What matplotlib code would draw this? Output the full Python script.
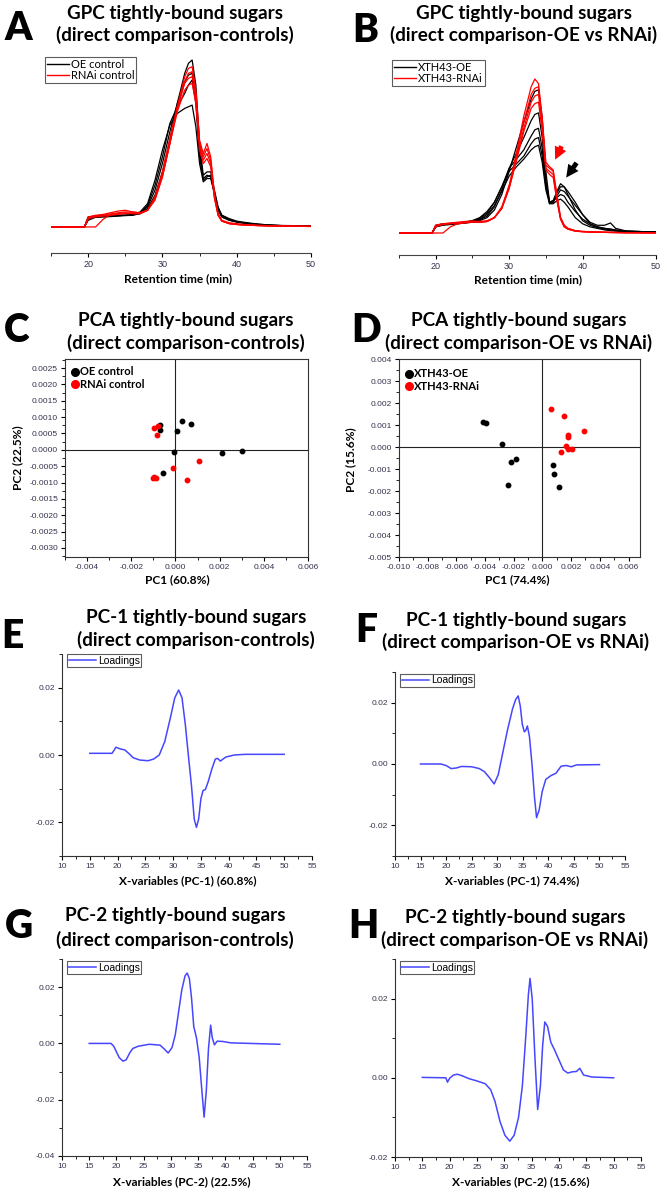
import matplotlib
matplotlib.use("Agg")
import matplotlib.pyplot as plt
import matplotlib.ticker as mticker
from matplotlib.lines import Line2D

plt.rcParams['font.family'] = ['Liberation Sans', 'DejaVu Sans']

# ---------------- data ----------------
# GPC traces (retention time grid shared by all traces, intensity in relative units)
gpc_x = [15, 19.5, 20, 21, 22, 23, 24, 25, 26, 27, 28, 29, 30, 31, 32, 33, 33.5, 34, 34.5, 35,
         35.5, 36, 36.5, 37, 37.5, 38, 39, 40, 41, 42, 43, 43.8, 44.5, 46, 50]

# A: OE control (black) / RNAi control (red)
a_oe = [
    [0, 0, 0.06, 0.065, 0.066, 0.068, 0.07, 0.07, 0.073, 0.08, 0.11, 0.19, 0.33, 0.52, 0.74, 0.92, 0.98, 1.0,
     0.85, 0.5, 0.31, 0.33, 0.33, 0.22, 0.12, 0.07, 0.045, 0.03, 0.024, 0.018, 0.014, 0.012, 0.01, 0.008, 0.005],
    [0, 0, 0.05, 0.06, 0.062, 0.065, 0.068, 0.07, 0.075, 0.09, 0.14, 0.28, 0.46, 0.61, 0.68, 0.71, 0.72, 0.73,
     0.6, 0.38, 0.27, 0.29, 0.29, 0.2, 0.11, 0.07, 0.05, 0.035, 0.028, 0.022, 0.017, 0.014, 0.012, 0.009, 0.006],
    [0, 0, 0.055, 0.06, 0.063, 0.066, 0.068, 0.07, 0.072, 0.085, 0.12, 0.22, 0.38, 0.57, 0.74, 0.87, 0.91, 0.92,
     0.78, 0.45, 0.29, 0.31, 0.3, 0.2, 0.1, 0.06, 0.04, 0.03, 0.022, 0.017, 0.013, 0.011, 0.009, 0.007, 0.005],
    [0, 0, 0.04, 0.058, 0.06, 0.062, 0.065, 0.068, 0.07, 0.08, 0.13, 0.25, 0.42, 0.62, 0.72, 0.8, 0.85, 0.88,
     0.74, 0.42, 0.28, 0.3, 0.31, 0.21, 0.1, 0.06, 0.04, 0.03, 0.024, 0.02, 0.016, 0.013, 0.011, 0.008, 0.005],
]
a_rnai = [
    [0, 0, 0.06, 0.07, 0.075, 0.085, 0.095, 0.1, 0.09, 0.085, 0.1, 0.16, 0.3, 0.5, 0.72, 0.9, 0.95, 0.96,
     0.82, 0.52, 0.44, 0.5, 0.42, 0.2, 0.08, 0.04, 0.025, 0.02, 0.015, 0.012, 0.01, 0.009, 0.008, 0.006, 0.004],
    [0, 0, 0, 0, 0.045, 0.075, 0.08, 0.085, 0.08, 0.08, 0.1, 0.17, 0.31, 0.5, 0.7, 0.87, 0.92, 0.93,
     0.8, 0.5, 0.42, 0.47, 0.4, 0.19, 0.07, 0.035, 0.02, 0.015, 0.012, 0.01, 0.008, 0.007, 0.006, 0.005, 0.003],
    [0, 0, 0.055, 0.065, 0.07, 0.078, 0.085, 0.09, 0.088, 0.085, 0.1, 0.18, 0.33, 0.53, 0.72, 0.86, 0.89, 0.9,
     0.77, 0.48, 0.4, 0.44, 0.38, 0.18, 0.07, 0.035, 0.02, 0.015, 0.012, 0.01, 0.008, 0.007, 0.006, 0.005, 0.003],
    [0, 0, 0.05, 0.06, 0.065, 0.07, 0.075, 0.08, 0.08, 0.08, 0.1, 0.17, 0.3, 0.5, 0.69, 0.82, 0.85, 0.86,
     0.74, 0.46, 0.38, 0.41, 0.36, 0.17, 0.07, 0.035, 0.02, 0.015, 0.012, 0.01, 0.008, 0.007, 0.006, 0.005, 0.003],
]

# B: XTH43-OE (black) / XTH43-RNAi (red)
b_oe = [
    [0, 0, 0.04, 0.055, 0.058, 0.06, 0.065, 0.07, 0.08, 0.1, 0.15, 0.25, 0.4, 0.56, 0.72, 0.87, 0.92, 0.93,
     0.75, 0.4, 0.2, 0.2, 0.26, 0.3, 0.3, 0.25, 0.15, 0.08, 0.05, 0.035, 0.025, 0.02, 0.015, 0.01, 0.005],
    [0, 0, 0.05, 0.06, 0.062, 0.065, 0.07, 0.075, 0.085, 0.11, 0.17, 0.28, 0.42, 0.52, 0.62, 0.73, 0.77, 0.78,
     0.62, 0.35, 0.2, 0.21, 0.27, 0.32, 0.3, 0.27, 0.2, 0.12, 0.06, 0.04, 0.03, 0.025, 0.018, 0.012, 0.006],
    [0, 0, 0.04, 0.055, 0.06, 0.065, 0.07, 0.08, 0.095, 0.13, 0.2, 0.3, 0.42, 0.48, 0.54, 0.63, 0.67, 0.68,
     0.55, 0.32, 0.19, 0.2, 0.24, 0.28, 0.27, 0.24, 0.18, 0.12, 0.07, 0.05, 0.05, 0.065, 0.03, 0.012, 0.006],
    [0, 0, 0.045, 0.055, 0.06, 0.065, 0.07, 0.08, 0.1, 0.14, 0.2, 0.3, 0.4, 0.45, 0.5, 0.58, 0.61, 0.62,
     0.5, 0.3, 0.2, 0.21, 0.23, 0.25, 0.24, 0.2, 0.14, 0.09, 0.06, 0.04, 0.03, 0.025, 0.02, 0.012, 0.006],
    [0, 0, 0.04, 0.05, 0.055, 0.06, 0.065, 0.075, 0.09, 0.12, 0.18, 0.27, 0.37, 0.43, 0.48, 0.54, 0.56, 0.57,
     0.46, 0.28, 0.19, 0.19, 0.21, 0.22, 0.2, 0.17, 0.1, 0.06, 0.04, 0.03, 0.02, 0.015, 0.012, 0.008, 0.004],
]
b_rnai = [
    [0, 0, 0.05, 0.06, 0.062, 0.065, 0.07, 0.072, 0.07, 0.075, 0.1, 0.16, 0.3, 0.52, 0.76, 0.95, 1.0, 0.97,
     0.75, 0.46, 0.43, 0.41, 0.25, 0.1, 0.05, 0.03, 0.015, 0.01, 0.008, 0.006, 0.005, 0.004, 0.003, 0.002, 0.001],
    [0, 0, 0.04, 0.055, 0.06, 0.065, 0.07, 0.07, 0.07, 0.075, 0.1, 0.17, 0.31, 0.5, 0.72, 0.9, 0.94, 0.95,
     0.72, 0.44, 0.42, 0.4, 0.24, 0.1, 0.05, 0.03, 0.015, 0.01, 0.008, 0.006, 0.005, 0.004, 0.003, 0.002, 0.001],
    [0, 0, 0, 0, 0.04, 0.06, 0.065, 0.07, 0.07, 0.075, 0.1, 0.16, 0.29, 0.48, 0.68, 0.85, 0.89, 0.9,
     0.7, 0.42, 0.4, 0.38, 0.22, 0.09, 0.04, 0.025, 0.012, 0.008, 0.006, 0.005, 0.004, 0.003, 0.003, 0.002, 0.001],
    [0, 0, 0.05, 0.06, 0.065, 0.07, 0.075, 0.078, 0.075, 0.08, 0.1, 0.16, 0.29, 0.47, 0.66, 0.81, 0.84, 0.85,
     0.66, 0.41, 0.38, 0.36, 0.21, 0.09, 0.04, 0.025, 0.012, 0.008, 0.006, 0.005, 0.004, 0.003, 0.003, 0.002, 0.001],
]

# C: PCA scores, controls
c_oe_pc1 = [-0.00072, -0.00069, 0.00028, 0.00008, 0.00072, -0.00006, 0.00212, 0.00303, -0.00058]
c_oe_pc2 = [0.00076, 0.00061, 0.00088, 0.00058, 0.00079, -0.00006, -0.00011, -0.00005, -0.00071]
c_rnai_pc1 = [-0.00098, -0.00078, -0.00085, -0.00009, 0.00105, 0.00051, -0.00102, -0.00097, -0.00086]
c_rnai_pc2 = [0.00068, 0.00073, 0.00044, -0.00056, -0.00033, -0.00092, -0.00085, -0.00083, -0.00085]

# D: PCA scores, OE vs RNAi
d_oe_pc1 = [-0.00411, -0.00393, -0.00283, -0.0022, -0.00187, -0.00243, 0.00075, 0.00082, 0.00117]
d_oe_pc2 = [0.00113, 0.00107, 0.00014, -0.00066, -0.00053, -0.00174, -0.00084, -0.00124, -0.00183]
d_rnai_pc1 = [0.00058, 0.0015, 0.00175, 0.00175, 0.00292, 0.00161, 0.00129, 0.0018, 0.00206]
d_rnai_pc2 = [0.00171, 0.0014, 0.00055, 0.00047, 0.00072, 0.00005, -0.00023, -0.00008, -0.00009]

# E-H: loadings
e_x = [15, 19, 19.3, 19.7, 20.5, 21.3, 22, 22.8, 24, 25.5, 26.5, 27.5, 28.5, 29.5, 30.3, 31, 31.6, 32.2,
       32.8, 33.3, 33.8, 34.2, 34.6, 35, 35.4, 35.8, 36.3, 37, 37.6, 38, 38.5, 39.5, 41, 43, 50]
e_y = [0.0005, 0.0005, 0.0012, 0.0023, 0.0018, 0.0015, 0.0005, -0.0008, -0.0015, -0.0017, -0.0012, 0.0,
       0.004, 0.011, 0.017, 0.0193, 0.017, 0.009, -0.001, -0.009, -0.019, -0.0215, -0.019, -0.013, -0.0105,
       -0.0103, -0.008, -0.004, -0.0012, -0.001, -0.0018, -0.0006, 0.0, 0.0002, 0.0002]

f_x = [15, 19, 20, 21, 22, 23, 25, 26.5, 27.5, 28.5, 29.4, 30.2, 31, 32, 33, 33.6, 34.1, 34.5, 34.9, 35.3,
       35.6, 35.9, 36.3, 36.8, 37.3, 37.7, 38.2, 38.8, 39.5, 40.5, 41.5, 42.5, 43.5, 44.5, 45.5, 50]
f_y = [0.0, 0.0, -0.0005, -0.0015, -0.0013, -0.0008, -0.0009, -0.0015, -0.0025, -0.0045, -0.0065, -0.0035,
       0.003, 0.011, 0.018, 0.021, 0.0222, 0.019, 0.013, 0.0105, 0.011, 0.0124, 0.009, 0.0, -0.011, -0.0175,
       -0.015, -0.009, -0.005, -0.0038, -0.003, -0.0007, -0.0005, -0.0009, -0.0003, -0.0002]

g_x = [15, 19, 19.5, 20, 20.5, 21.2, 21.8, 22.4, 23, 24, 26, 28, 28.8, 29.5, 30.2, 30.8, 31.4, 32, 32.6,
       33, 33.4, 33.8, 34.2, 34.7, 35.2, 35.7, 36.1, 36.5, 36.9, 37.3, 37.6, 38, 38.5, 39.5, 41, 50]
g_y = [0.0, 0.0, -0.001, -0.003, -0.005, -0.0063, -0.0058, -0.0035, -0.0018, -0.001, -0.0003, -0.0006,
       -0.002, -0.0034, -0.0015, 0.003, 0.011, 0.019, 0.024, 0.025, 0.023, 0.016, 0.006, 0.002, -0.005,
       -0.017, -0.0262, -0.017, -0.002, 0.0065, 0.002, -0.0005, 0.0008, 0.0007, 0.0002, -0.0003]

h_x = [15, 19.3, 19.6, 20, 20.7, 21.4, 22.3, 23.5, 25, 26.5, 27.5, 28.3, 29.2, 30.1, 31, 31.8, 32.6, 33.3,
       33.9, 34.4, 34.7, 35.1, 35.6, 36.1, 36.6, 37, 37.4, 37.9, 38.5, 39.2, 40, 40.8, 41.6, 42.4, 43.2,
       43.8, 44.5, 46, 50]
h_y = [0.0001, 0.0, -0.0011, -0.0001, 0.0007, 0.0009, 0.0005, -0.0002, -0.0008, -0.0015, -0.003, -0.006,
       -0.011, -0.0145, -0.016, -0.0145, -0.01, -0.002, 0.01, 0.021, 0.0251, 0.02, 0.005, -0.008, -0.002,
       0.008, 0.0141, 0.013, 0.009, 0.007, 0.0045, 0.002, 0.0012, 0.0015, 0.0016, 0.0024, 0.0007, 0.0002, 0.0]

# ---------------- layout helpers ----------------
W, H = 666, 1191
fig = plt.figure(figsize=(W / 100, H / 100), dpi=100)

TICK_COLOR = '#34344e'
HEAD = 'Lato'
BLUE = '#4646ff'
TSIZE = 13.6
LSIZE = 8.6


def box(l, t, r, b):
    return [l / W, 1 - b / H, (r - l) / W, (b - t) / H]


def ftext(x, y, s, **kw):
    fig.text(x / W, 1 - y / H, s, ha='center', va='center', **kw)


def title(cx, y1, y2, l1, l2, lx, ly, letter):
    ftext(cx, y1, l1, family=HEAD, weight='bold', size=TSIZE)
    ftext(cx, y2, l2, family=HEAD, weight='bold', size=TSIZE)
    ftext(lx, ly, letter, family=HEAD, weight='heavy', size=28)


def ticks(ax):
    ax.tick_params(which='major', labelsize=6, length=3, width=0.8, labelcolor=TICK_COLOR, pad=2)
    ax.tick_params(which='minor', length=2, width=0.6)


# ---------------- A / B: GPC ----------------
def gpc(rect, oe, rnai, labels, ylim, leg_anchor):
    ax = fig.add_axes(rect)
    for y in oe:
        ax.plot(gpc_x, y, color='black', lw=0.9)
    for y in rnai:
        ax.plot(gpc_x, y, color='red', lw=0.9)
    ax.set_xlim(15, 50)
    ax.set_ylim(*ylim)
    for s in ['left', 'right', 'top']:
        ax.spines[s].set_visible(False)
    ax.spines['bottom'].set_color('#444444')
    ax.set_yticks([])
    ax.set_xticks([20, 30, 40, 50])
    ax.set_xticks([15, 25, 35, 45], minor=True)
    ticks(ax)
    ax.tick_params(axis='x', labelsize=6.5)
    hs = [Line2D([], [], color='black', lw=1), Line2D([], [], color='red', lw=1)]
    leg = ax.legend(hs, labels, loc='upper left', bbox_to_anchor=leg_anchor, frameon=True, fancybox=False,
                    edgecolor='#333333', prop={'family': HEAD, 'size': 8}, handlelength=2.0,
                    borderpad=0.15, labelspacing=0.05, handletextpad=0.2, borderaxespad=0)
    leg.get_frame().set_linewidth(0.8)
    return ax


axA = gpc(box(51, 55, 311, 253), a_oe, a_rnai, ['OE control', 'RNAi control'], (-0.156, 1.03),
          (-0.023, 0.99))
axB = gpc(box(399, 57, 656, 255), b_oe, b_rnai, ['XTH43-OE', 'XTH43-RNAi'], (-0.143, 1.143),
          (-0.027, 0.985))
axB.annotate('', xy=(36.1, 0.46), xytext=(37.3, 0.58),
             arrowprops=dict(arrowstyle='simple,head_width=0.9,head_length=0.9,tail_width=0.35',
                             color='red', lw=0))
axB.annotate('', xy=(37.55, 0.345), xytext=(39.4, 0.47),
             arrowprops=dict(arrowstyle='simple,head_width=0.9,head_length=0.9,tail_width=0.35',
                             color='black', lw=0))

title(175, 13, 35, 'GPC tightly-bound sugars', '(direct comparison-controls)', 18, 29, 'A')
title(524, 13, 35, 'GPC tightly-bound sugars', '(direct comparison-OE vs RNAi)', 365, 30, 'B')
ftext(178, 279, 'Retention time (min)', family=HEAD, weight='bold', size=LSIZE)
ftext(528, 280, 'Retention time (min)', family=HEAD, weight='bold', size=LSIZE)


# ---------------- C / D: PCA ----------------
def pca(rect, oe_x, oe_y, rn_x, rn_y, labels, xlim, ylim, xt, yt, xfmt, yfmt, anchor):
    ax = fig.add_axes(rect)
    ax.axhline(0, color='#222222', lw=0.8)
    ax.axvline(0, color='#222222', lw=0.8)
    ax.plot(oe_x, oe_y, 'o', color='black', ms=3.2, ls='none')
    ax.plot(rn_x, rn_y, 'o', color='red', ms=3.2, ls='none')
    ax.set_xlim(*xlim)
    ax.set_ylim(*ylim)
    ax.set_xticks(xt)
    ax.set_yticks(yt)
    ax.xaxis.set_major_formatter(mticker.FormatStrFormatter(xfmt))
    ax.yaxis.set_major_formatter(mticker.FormatStrFormatter(yfmt))
    ax.xaxis.set_minor_locator(mticker.AutoMinorLocator(2))
    ax.yaxis.set_minor_locator(mticker.AutoMinorLocator(2))
    for s in ax.spines.values():
        s.set_linewidth(0.8)
        s.set_color('#333333')
    ticks(ax)
    hs = [Line2D([], [], marker='o', color='black', ls='none', ms=5.5),
          Line2D([], [], marker='o', color='red', ls='none', ms=5.5)]
    ax.legend(hs, labels, loc='upper left', bbox_to_anchor=anchor, frameon=False,
              prop={'family': HEAD, 'size': 8, 'weight': 'bold'}, handlelength=0.6,
              handletextpad=0.15, labelspacing=0.15, borderaxespad=0)
    return ax


pca(box(65, 359, 308, 557), c_oe_pc1, c_oe_pc2, c_rnai_pc1, c_rnai_pc2, ['OE control', 'RNAi control'],
    (-0.005, 0.006), (-0.00328, 0.00278),
    [-0.004, -0.002, 0.0, 0.002, 0.004, 0.006],
    [0.0025, 0.002, 0.0015, 0.001, 0.0005, 0, -0.0005, -0.001, -0.0015, -0.002, -0.0025, -0.003],
    '%.3f', '%.4f', (0.01, 0.985))
pca(box(399, 359, 640, 557), d_oe_pc1, d_oe_pc2, d_rnai_pc1, d_rnai_pc2, ['XTH43-OE', 'XTH43-RNAi'],
    (-0.010, 0.0068), (-0.005, 0.004),
    [-0.010, -0.008, -0.006, -0.004, -0.002, 0.0, 0.002, 0.004, 0.006],
    [0.004, 0.003, 0.002, 0.001, 0.0, -0.001, -0.002, -0.003, -0.004, -0.005],
    '%.3f', '%.3f', (0.01, 0.975))

title(186, 320, 343, 'PCA tightly-bound sugars', '(direct comparison-controls)', 17, 331, 'C')
title(519, 320, 343, 'PCA tightly-bound sugars', '(direct comparison-OE vs RNAi)', 366, 331, 'D')
ftext(177, 580, 'PC1 (60.8%)', family=HEAD, weight='bold', size=LSIZE)
ftext(18, 458, 'PC2 (22.5%)', family=HEAD, weight='bold', size=LSIZE, rotation=90)
ftext(517, 580, 'PC1 (74.4%)', family=HEAD, weight='bold', size=LSIZE)
ftext(351, 460, 'PC2 (15.6%)', family=HEAD, weight='bold', size=LSIZE, rotation=90)


# ---------------- E-H: loadings ----------------
def loading(rect, x, y, ylim, yt, anchor):
    ax = fig.add_axes(rect)
    ax.plot(x, y, color=BLUE, lw=1.1)
    ax.set_xlim(10, 55)
    ax.set_ylim(*ylim)
    ax.set_xticks(range(10, 56, 5))
    ax.xaxis.set_minor_locator(mticker.AutoMinorLocator(2))
    ax.set_yticks(yt)
    ax.yaxis.set_minor_locator(mticker.AutoMinorLocator(2))
    ax.yaxis.set_major_formatter(mticker.FormatStrFormatter('%.2f'))
    for s in ['right', 'top']:
        ax.spines[s].set_visible(False)
    for s in ['left', 'bottom']:
        ax.spines[s].set_linewidth(0.8)
        ax.spines[s].set_color('#333333')
    ticks(ax)
    leg = ax.legend([Line2D([], [], color=BLUE, lw=1.1)], ['Loadings'], loc='upper left',
                    bbox_to_anchor=anchor, frameon=True, fancybox=False, edgecolor='#333333',
                    prop={'family': 'Liberation Sans', 'size': 7.5}, handlelength=2.6,
                    borderpad=0.15, handletextpad=0.2, borderaxespad=0)
    leg.get_frame().set_linewidth(0.8)
    return ax


loading(box(62, 654, 312, 856), e_x, e_y, (-0.03, 0.03), [-0.02, 0.0, 0.02], (0.02, 1.0))
loading(box(395, 672, 625, 856), f_x, f_y, (-0.03, 0.03), [-0.02, 0.0, 0.02], (0.022, 0.99))
loading(box(62, 959, 307, 1156), g_x, g_y, (-0.04, 0.03), [-0.04, -0.02, 0.0, 0.02], (0.02, 0.99))
loading(box(395, 959, 641, 1157), h_x, h_y, (-0.02, 0.03), [-0.02, 0.0, 0.02], (0.02, 0.99))

title(196, 617, 640, 'PC-1 tightly-bound sugars', '(direct comparison-controls)', 12, 636, 'E')
title(516, 620, 642, 'PC-1 tightly-bound sugars', '(direct comparison-OE vs RNAi)', 366, 631, 'F')
title(175, 916, 940, 'PC-2 tightly-bound sugars', '(direct comparison-controls)', 19, 926, 'G')
title(515, 918, 940, 'PC-2 tightly-bound sugars', '(direct comparison-OE vs RNAi)', 363, 927, 'H')
ftext(188, 881, 'X-variables (PC-1) (60.8%)', family=HEAD, weight='bold', size=LSIZE)
ftext(512, 881, 'X-variables (PC-1) 74.4%)', family=HEAD, weight='bold', size=LSIZE)
ftext(182, 1182, 'X-variables (PC-2) (22.5%)', family=HEAD, weight='bold', size=LSIZE)
ftext(521, 1182, 'X-variables (PC-2) (15.6%)', family=HEAD, weight='bold', size=LSIZE)

fig.savefig('out.png', dpi=100)
